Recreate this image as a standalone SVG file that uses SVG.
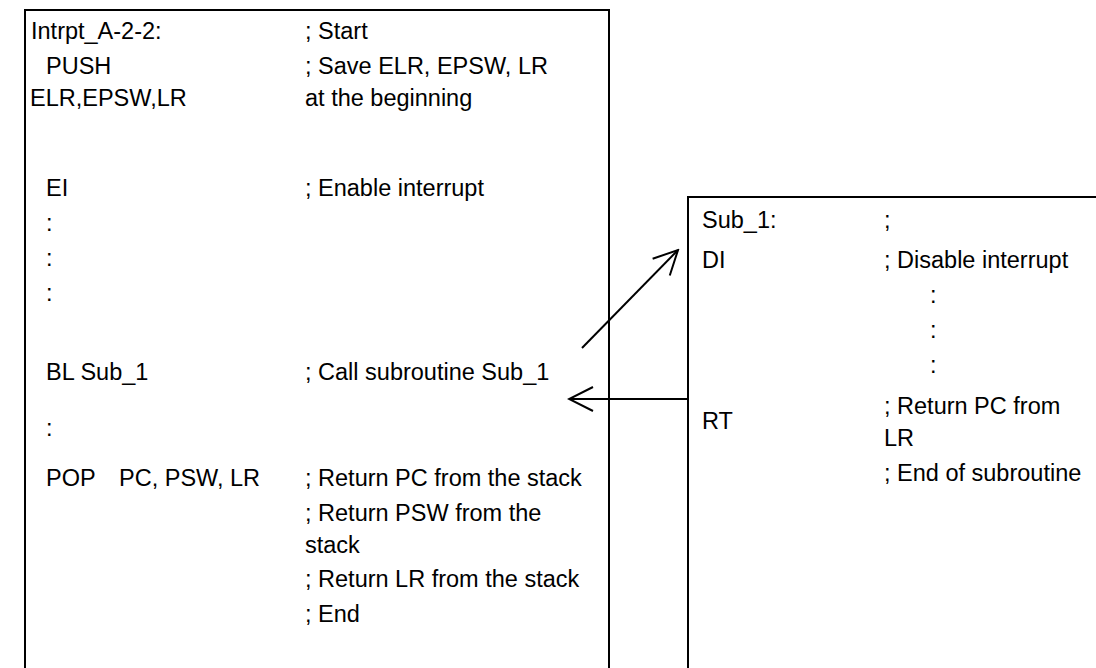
<svg xmlns="http://www.w3.org/2000/svg" width="1096" height="668" viewBox="0 0 1096 668">
<style>
text{font-family:"Liberation Sans",Arial,sans-serif;font-size:23.5px;fill:#000}
.box{fill:#fff;stroke:#000;stroke-width:2}
.conn{fill:none;stroke:#000;stroke-width:2}
</style>
<defs>
<marker id="open" viewBox="0 0 28 28" refX="26" refY="14" markerWidth="28" markerHeight="28" markerUnits="userSpaceOnUse" orient="auto">
<path d="M2,2 L26,14 L2,26" fill="none" stroke="#000" stroke-width="2"/>
</marker>
</defs>
<g id="main">
<rect class="box" x="25" y="10" width="584" height="700"/>
<text x="31" y="39">Intrpt_A-2-2:</text>
<text x="305" y="39">; Start</text>
<text x="46" y="74">PUSH</text>
<text x="305" y="74">; Save ELR, EPSW, LR</text>
<text x="30" y="106">ELR,EPSW,LR</text>
<text x="305" y="106">at the beginning</text>
<text x="46" y="196">EI</text>
<text x="305" y="196">; Enable interrupt</text>
<text x="46" y="231">:</text>
<text x="46" y="266">:</text>
<text x="46" y="301">:</text>
<text x="46" y="380">BL Sub_1</text>
<text x="305" y="380">; Call subroutine Sub_1</text>
<text x="46" y="436">:</text>
<text x="46" y="486">POP</text>
<text x="119" y="486">PC, PSW, LR</text>
<text x="305" y="486">; Return PC from the stack</text>
<text x="305" y="521">; Return PSW from the</text>
<text x="305" y="553">stack</text>
<text x="305" y="587">; Return LR from the stack</text>
<text x="305" y="622">; End</text>
</g>
<g id="sub">
<rect class="box" x="688" y="197" width="420" height="520"/>
<text x="702" y="228">Sub_1:</text>
<text x="884" y="228">;</text>
<text x="702" y="268">DI</text>
<text x="884" y="268">; Disable interrupt</text>
<text x="930" y="303">:</text>
<text x="930" y="338">:</text>
<text x="930" y="373">:</text>
<text x="702" y="429">RT</text>
<text x="884" y="414">; Return PC from</text>
<text x="884" y="446">LR</text>
<text x="884" y="481">; End of subroutine</text>
</g>
<g id="connectors">
<path class="conn" d="M582,348 L678,250" marker-end="url(#open)"/>
<path class="conn" d="M688,399 L569,399" marker-end="url(#open)"/>
</g>
</svg>
